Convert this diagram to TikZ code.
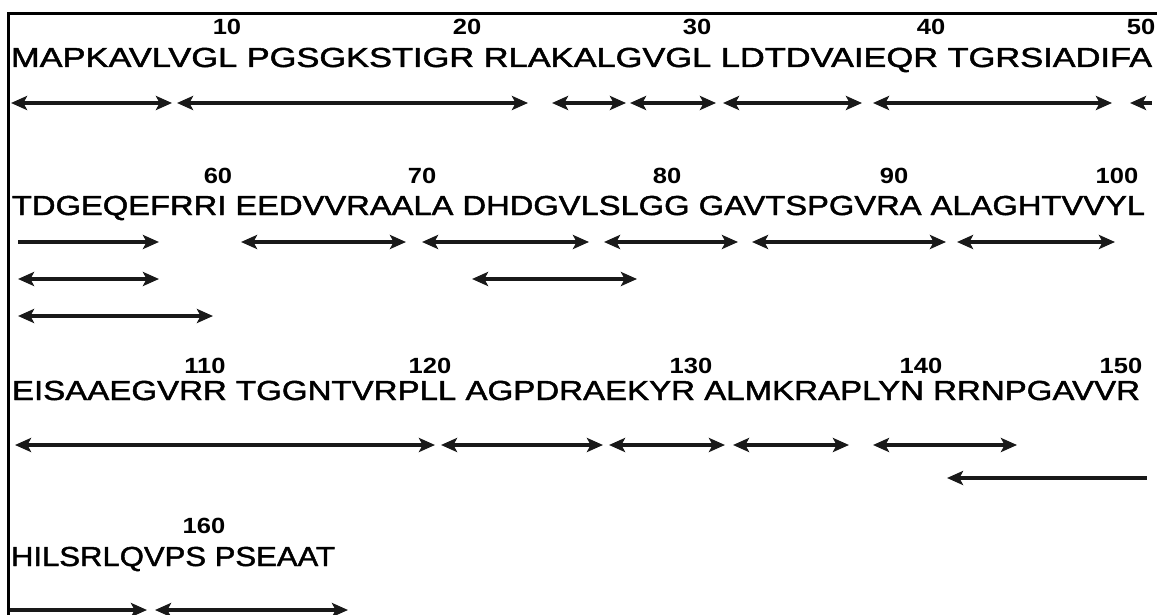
\documentclass[tikz,border=0pt]{standalone}
\usepackage{fontspec}
\setmainfont{Liberation Sans}
\newfontfamily\seqfont[FakeBold=1.5]{Liberation Sans}
\usepackage{graphicx}
\usetikzlibrary{arrows.meta}
\newcommand{\fitrow}[2]{\resizebox{#1pt}{\height}{#2}}
\newcommand{\lab}[1]{\scalebox{1.16}[1]{#1}}
\tikzset{
  seq/.style={anchor=base west, inner sep=0pt, outer sep=0pt, text=black,
    font=\seqfont\fontsize{27.5}{30}\selectfont},
  num/.style={anchor=base, inner sep=0pt, outer sep=0pt, text=black,
    font=\fontsize{22}{24}\selectfont\bfseries},
  tip/.tip={Stealth[length=16pt,width=14pt,inset=3.5pt]},
  span/.style={line width=3.4pt, draw=black!90, tip-tip},
  rspan/.style={line width=3.4pt, draw=black!90, -tip},
  lspan/.style={line width=3.4pt, draw=black!90, tip-},
  frameline/.style={line width=3pt, draw=black}
}
\begin{document}
\begin{tikzpicture}[x=1pt,y=-1pt]
\useasboundingbox (0,0) rectangle (1157,615);
\fill[white] (0,0) rectangle (1157,615);
\draw[frameline] (8.5,616) -- (8.5,14) -- (1158,14);

% ---------- row 1 ----------
\node[seq] (row1) at (11,67) {\fitrow{1141}{MAPKAVLVGL PGSGKSTIGR RLAKALGVGL LDTDVAIEQR TGRSIADIFA}};
\node[num] (n10) at (227,35) {\lab{10}};
\node[num] (n20) at (467,35) {\lab{20}};
\node[num] (n30) at (697,35) {\lab{30}};
\node[num] (n40) at (931,35) {\lab{40}};
\node[num] (n50) at (1141,35) {\lab{50}};
\draw[span] (11,103) -- (172,103);
\draw[span] (177,103) -- (528,103);
\draw[span] (552,103) -- (626,103);
\draw[span] (630,103) -- (716,103);
\draw[span] (723,103) -- (862,103);
\draw[span] (873,103) -- (1112,103);
\draw[lspan] (1130,103) -- (1152,103);

% ---------- row 2 ----------
\node[seq] (row2) at (12,215) {\fitrow{1133}{TDGEQEFRRI EEDVVRAALA DHDGVLSLGG GAVTSPGVRA ALAGHTVVYL}};
\node[num] (n60) at (218,183) {\lab{60}};
\node[num] (n70) at (422,183) {\lab{70}};
\node[num] (n80) at (667,183) {\lab{80}};
\node[num] (n90) at (894,183) {\lab{90}};
\node[num] (n100) at (1117,183) {\lab{100}};
\draw[rspan] (18,242) -- (159,242);
\draw[span] (241,242) -- (406,242);
\draw[span] (422,242) -- (589,242);
\draw[span] (604,242) -- (738,242);
\draw[span] (752,242) -- (946,242);
\draw[span] (957,242) -- (1115,242);
\draw[span] (18,279) -- (159,279);
\draw[span] (472,279) -- (637,279);
\draw[span] (18,316) -- (213,316);

% ---------- row 3 ----------
\node[seq] (row3) at (12,400) {\fitrow{1128}{EISAAEGVRR TGGNTVRPLL AGPDRAEKYR ALMKRAPLYN RRNPGAVVR}};
\node[num] (n110) at (205,373) {\lab{110}};
\node[num] (n120) at (430,373) {\lab{120}};
\node[num] (n130) at (691,373) {\lab{130}};
\node[num] (n140) at (921,373) {\lab{140}};
\node[num] (n150) at (1121,373) {\lab{150}};
\draw[span] (15,445) -- (435,445);
\draw[span] (441,445) -- (603,445);
\draw[span] (609,445) -- (725,445);
\draw[span] (733,445) -- (849,445);
\draw[span] (873,445) -- (1017,445);
\draw[lspan] (947,478) -- (1147,478);

% ---------- row 4 ----------
\node[seq] (row4) at (11,566) {\fitrow{324}{HILSRLQVPS PSEAAT}};
\node[num] (n160) at (204,533) {\lab{160}};
\draw[rspan] (10,610) -- (147,610);
\draw[span] (155,610) -- (348,610);
\end{tikzpicture}
\end{document}
